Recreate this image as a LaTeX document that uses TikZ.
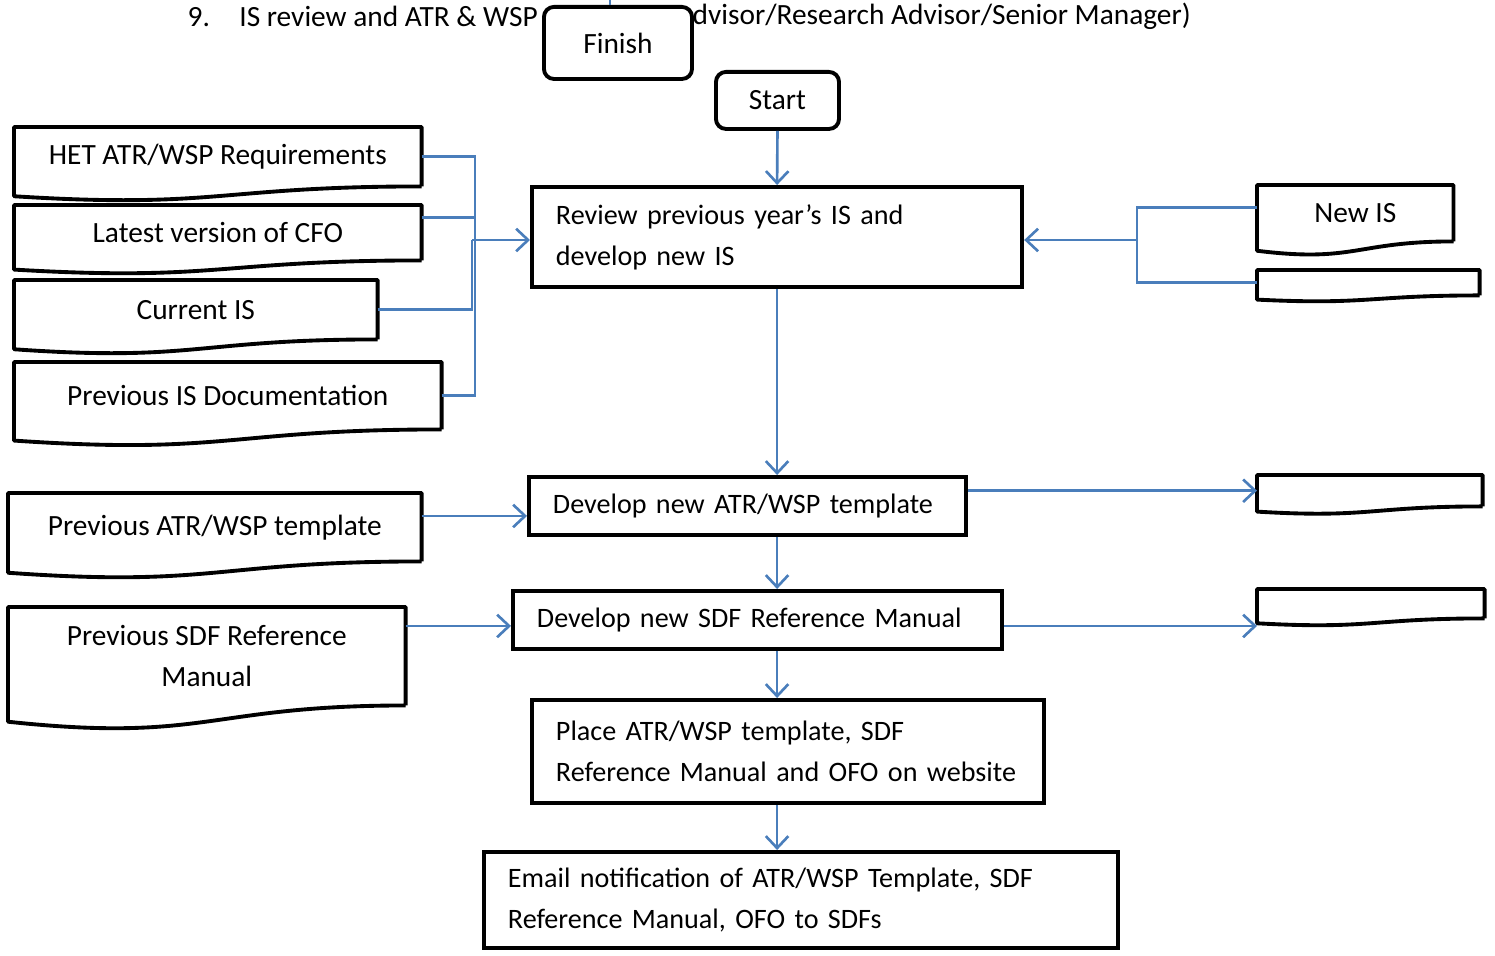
\documentclass[tikz,border=0pt]{standalone}
\usepackage{fontspec}
\setmainfont{Carlito}
\usetikzlibrary{calc,arrows.meta}
\definecolor{flowblue}{HTML}{4A7EBB}
\tikzset{
	procbox/.style={draw, line width=1.1pt, anchor=north west, align=left, inner xsep=0.24cm, inner ysep=0pt, font=\fontsize{8}{11.7}\selectfont},
	docbox/.style={anchor=north west, align=center, inner sep=0pt},
	termbox/.style={draw, fill=white, line width=1.1pt, rounded corners=0.1cm, anchor=north west, inner sep=0pt},
	docline/.style={line width=1.1pt, line join=round},
	link/.style={draw=flowblue, line width=0.75pt},
	flow/.style={link, -{Straight Barb[length=3.4pt,width=6.4pt]}}
}
% outline of a document symbol round a docbox node
\newcommand{\docshape}[1]{\draw[docline] (#1.south east) -- (#1.north east) -- (#1.north west) -- ($(#1.north west)!1.165!(#1.south west)$) .. controls ($(#1.north)!1.381!(#1.south)$) and (#1.south) .. (#1.south east);}

\begin{document}
\begin{tikzpicture}[x=0.01cm, y=-0.01cm, every node/.style={font=\fontsize{8.35}{11.7}\selectfont}]
	\useasboundingbox (0,0) rectangle (1495,955);
	\node[anchor=west, inner sep=0pt] (title) at (187,16) {9.\quad IS review and ATR \& WSP};
	\node[anchor=west, inner sep=0pt] (titleb) at (692,16) {dvisor/Research Advisor/Senior Manager)};
	\node[termbox, minimum width=1.48cm, minimum height=0.72cm] (finish) at (542,5) {Finish};
	\node[termbox, minimum width=1.23cm, minimum height=0.57cm] (start) at (714,70) {Start};
	% inputs
	\node[docbox, minimum width=4.06cm, minimum height=0.58cm] (het) at (14,127) {HET ATR/WSP Requirements};
	\node[docbox, minimum width=4.06cm, minimum height=0.54cm] (cfo) at (14,205) {Latest version of CFO};
	\node[docbox, minimum width=3.62cm, minimum height=0.58cm] (curis) at (14,280) {Current IS};
	\node[docbox, minimum width=4.26cm, minimum height=0.66cm] (previs) at (14,362) {Previous IS Documentation};
	\node[docbox, minimum width=4.12cm, minimum height=0.67cm] (prevatr) at (8,493) {Previous ATR/WSP template};
	\node[docbox, minimum width=3.96cm, minimum height=0.97cm] (prevsdf) at (8,607) {Previous SDF Reference\\Manual};
	% outputs
	\node[docbox, minimum width=1.95cm, minimum height=0.55cm] (newis) at (1257,185) {New IS};
	\node[docbox, minimum width=2.21cm, minimum height=0.24cm] (outis) at (1257,270) {};
	\node[docbox, minimum width=2.24cm, minimum height=0.30cm] (outatr) at (1257,475) {};
	\node[docbox, minimum width=2.26cm, minimum height=0.28cm] (outsdf) at (1257,589) {};
	\docshape{het}
	\docshape{cfo}
	\docshape{curis}
	\docshape{previs}
	\docshape{prevatr}
	\docshape{prevsdf}
	\docshape{newis}
	\docshape{outis}
	\docshape{outatr}
	\docshape{outsdf}
	% steps
	\node[procbox, text width=4.42cm, minimum height=1cm] (review) at (530,185) {Review previous year’s IS and\\develop new IS};
	\node[procbox, text width=3.89cm, minimum height=0.58cm] (devatr) at (527,475) {Develop new ATR/WSP template};
	\node[procbox, text width=4.41cm, minimum height=0.58cm] (devsdf) at (511,589) {Develop new SDF Reference Manual};
	\node[procbox, text width=4.64cm, minimum height=1.03cm] (place) at (530,698) {Place ATR/WSP template, SDF\\Reference Manual and OFO on website};
	\node[procbox, text width=5.86cm, minimum height=0.96cm] (email) at (482,850) {Email notification of ATR/WSP Template, SDF\\Reference Manual, OFO to SDFs};
	% connectors
	\coordinate (fin) at (610,0);
	\coordinate (join) at (475,240);
	\coordinate (joinb) at (472,240);
	\coordinate (rjoin) at (1137,240);
	\draw[link] (fin) -- (fin |- finish.north);
	\draw[flow] (start.south) -- (review.north);
	\draw[link] (het.east) -| (join);
	\draw[link] ([yshift=0.15cm]cfo.east) -| (join);
	\draw[link] (previs.east) -| (join);
	\draw[link] (curis.east) -| (joinb);
	\draw[flow] (joinb) -- (joinb -| review.west);
	\draw[link] ([yshift=0.06cm]newis.west) -| (rjoin);
	\draw[link] (outis.west) -| (rjoin);
	\draw[flow] (rjoin) -- (rjoin -| review.east);
	\draw[flow] (review.south) -- (review.south |- devatr.north);
	\draw[flow] (review.south |- devatr.south) -- (review.south |- devsdf.north);
	\draw[flow] (review.south |- devsdf.south) -- (review.south |- place.north);
	\draw[flow] (review.south |- place.south) -- (review.south |- email.north);
	\draw[flow] ([yshift=-0.1cm]devatr.west -| prevatr.east) -- ([yshift=-0.1cm]devatr.west);
	\draw[flow] (devatr.east |- outatr.west) -- (outatr.west);
	\draw[flow] ([yshift=-0.06cm]devsdf.west -| prevsdf.east) -- ([yshift=-0.06cm]devsdf.west);
	\draw[flow] ([yshift=-0.06cm]devsdf.east) -- ([yshift=-0.06cm]devsdf.east -| outsdf.west);
\end{tikzpicture}
\end{document}
